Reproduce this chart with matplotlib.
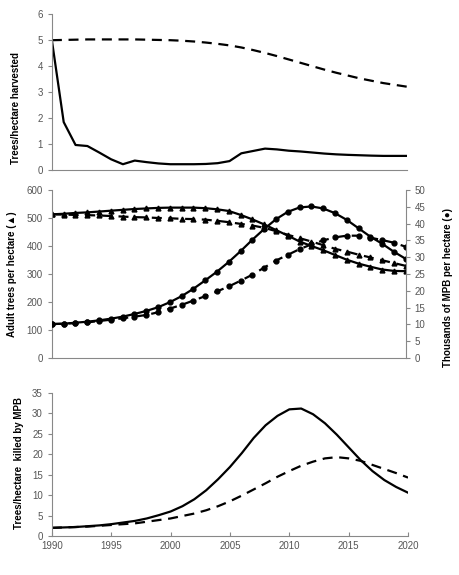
import numpy as np
import matplotlib
matplotlib.use("Agg")
from matplotlib import pyplot as plt

plt.rcParams["font.family"] = ["Liberation Sans", "DejaVu Sans"]

years = list(range(1990, 2021))

# top panel: trees/hectare harvested
harvest_solid = [5.0, 1.85, 0.97, 0.93, 0.68, 0.42, 0.23, 0.37, 0.31, 0.26, 0.23,
                 0.23, 0.23, 0.24, 0.27, 0.35, 0.65, 0.74, 0.83, 0.80, 0.75,
                 0.72, 0.68, 0.64, 0.61, 0.59, 0.575, 0.56, 0.55, 0.55, 0.55]
harvest_dashed = [5.0, 5.01, 5.02, 5.03, 5.03, 5.03, 5.03, 5.03, 5.02, 5.01, 5.0,
                  4.98, 4.95, 4.91, 4.86, 4.80, 4.72, 4.62, 4.51, 4.39, 4.26,
                  4.13, 4.0, 3.87, 3.75, 3.64, 3.53, 3.44, 3.35, 3.28, 3.21]

# middle panel: adult trees (left) and MPB thousands (right)
trees_solid = [513, 515, 518, 520, 523, 526, 529, 532, 534, 536, 537,
               537, 537, 535, 531, 525, 511, 495, 477, 457, 437,
               416, 400, 385, 368, 351, 337, 326, 316, 311, 310]
trees_dashed = [513, 512, 511, 510, 509, 507, 505, 503, 502, 500, 499,
                497, 496, 494, 490, 485, 479, 473, 465, 453, 440,
                428, 416, 403, 390, 380, 369, 359, 349, 339, 329]
mpb_solid = [10.1, 10.2, 10.5, 10.8, 11.2, 11.7, 12.3, 13.1, 14.0, 15.1, 16.6,
             18.4, 20.6, 23.1, 25.7, 28.6, 31.8, 35.2, 38.4, 41.3, 43.5,
             44.8, 45.1, 44.5, 43.1, 41.1, 38.6, 36.1, 34.0, 31.6, 29.5]
mpb_dashed = [10.1, 10.2, 10.4, 10.6, 11.0, 11.4, 11.8, 12.3, 12.8, 13.6, 14.7,
              15.8, 17.1, 18.4, 19.8, 21.3, 23.0, 24.8, 26.9, 29.0, 30.7,
              32.4, 33.8, 35.0, 35.9, 36.4, 36.4, 35.8, 35.1, 34.3, 33.1]

# bottom panel: trees/hectare killed by MPB
killed_solid = [2.0, 2.1, 2.2, 2.4, 2.6, 2.9, 3.3, 3.7, 4.3, 5.1, 6.0,
                7.3, 9.0, 11.2, 13.9, 16.9, 20.3, 24.0, 27.1, 29.4, 31.0,
                31.2, 29.8, 27.6, 24.8, 21.7, 18.6, 15.9, 13.7, 12.0, 10.6]
killed_dashed = [2.0, 2.1, 2.2, 2.3, 2.5, 2.7, 2.9, 3.1, 3.5, 3.9, 4.3,
                 4.9, 5.5, 6.3, 7.3, 8.5, 9.9, 11.4, 12.9, 14.5, 15.9,
                 17.2, 18.2, 19.0, 19.3, 19.0, 18.4, 17.4, 16.4, 15.4, 14.3]

grey = "#888888"
tick_col = "#555555"
dash = (0, (4.5, 3))
lw = 1.6


def style_axis(ax, right=None):
    for side in ["top", "right"]:
        ax.spines[side].set_visible(False)
    for side in ["left", "bottom"]:
        ax.spines[side].set_color(grey)
        ax.spines[side].set_linewidth(0.8)
    ax.tick_params(axis="y", colors=grey, labelcolor=tick_col, labelsize=7,
                   length=3, width=0.8, direction="out")
    ax.set_xlim(1990, 2020)


fig = plt.figure(figsize=(4.59, 5.75), dpi=100)

# top panel
ax1 = fig.add_axes([0.113, 0.704, 0.774, 0.2713])
ax1.plot(years, harvest_solid, color="black", lw=lw)
ax1.plot(years, harvest_dashed, color="black", lw=lw, linestyle=dash)
style_axis(ax1)
ax1.set_ylim(0, 6)
ax1.set_yticks(range(0, 7))
ax1.set_xticks([])
ax1.set_ylabel("Trees/hectare harvested", fontsize=7, fontweight="bold")
ax1.yaxis.set_label_coords(-0.087, 0.40)

# middle panel
ax2 = fig.add_axes([0.113, 0.3774, 0.771, 0.2922])
ax2.plot(years, trees_solid, color="black", lw=lw, marker="^", markersize=3.5)
ax2.plot(years, trees_dashed, color="black", lw=lw, linestyle=dash,
         marker="^", markersize=3.5)
style_axis(ax2)
ax2.set_ylim(0, 600)
ax2.set_yticks(range(0, 601, 100))
ax2.set_xticks([])
ax2.set_ylabel("Adult trees per hectare (\u25b2)", fontsize=7, fontweight="bold")
ax2.yaxis.set_label_coords(-0.099, 0.5)

ax3 = ax2.twinx()
ax3.plot(years, mpb_solid, color="black", lw=lw, marker="o", markersize=3.5)
ax3.plot(years, mpb_dashed, color="black", lw=lw, linestyle=dash,
         marker="o", markersize=3.5)
ax3.set_ylim(0, 50)
ax3.set_yticks(range(0, 51, 5))
for side in ["top", "left", "bottom"]:
    ax3.spines[side].set_visible(False)
ax3.spines["right"].set_color(grey)
ax3.spines["right"].set_linewidth(0.8)
ax3.tick_params(axis="y", colors=grey, labelcolor=tick_col, labelsize=7,
                length=3, width=0.8)
ax3.set_ylabel("Thousands of MPB per hectare (\u25cf)", fontsize=7,
               fontweight="bold")
ax3.yaxis.set_label_coords(1.105, 0.42)
ax3.set_xlim(1990, 2020)

# bottom panel
ax4 = fig.add_axes([0.113, 0.0678, 0.776, 0.2487])
ax4.plot(years, killed_solid, color="black", lw=lw)
ax4.plot(years, killed_dashed, color="black", lw=lw, linestyle=dash)
style_axis(ax4)
ax4.set_ylim(0, 35)
ax4.set_yticks(range(0, 36, 5))
ax4.set_xticks(range(1990, 2021, 5))
ax4.tick_params(axis="x", colors=grey, labelcolor=tick_col, labelsize=7,
                length=3, width=0.8, direction="in")
ax4.set_ylabel("Trees/hectare  killed by MPB", fontsize=7, fontweight="bold")
ax4.yaxis.set_label_coords(-0.079, 0.51)

fig.savefig("out.png", dpi=100)
